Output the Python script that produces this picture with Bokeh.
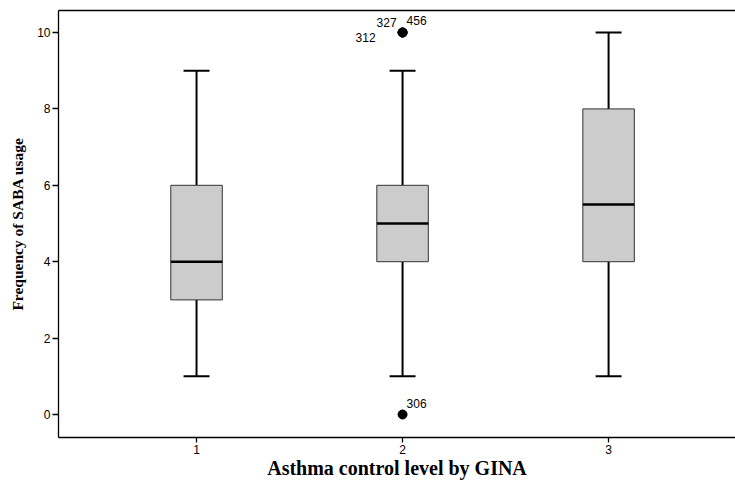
from bokeh.plotting import figure
from bokeh.models import ColumnDataSource, Range1d, FixedTicker, LinearAxis
from bokeh.core.properties import value
from bokeh.embed import file_html
from bokeh.resources import INLINE

# ---- data ----
categories = [1, 2, 3]
tick_labels = ["1", "2", "3"]
q1 = [3, 4, 4]
median = [4, 5, 5.5]
q3 = [6, 6, 8]
whisker_low = [1, 1, 1]
whisker_high = [9, 9, 10]

outlier_cat = [2, 2, 2, 2]
outlier_val = [10, 10, 10, 0]
outlier_ids = ["312", "327", "456", "306"]

# ---- styles ----
BOX_HALF = 0.125
CAP_HALF = 0.063
label_dx = [-27, -26, 4, 4]
label_dy = [5, -10, -12, -11]
label_align = ["right", "left", "left", "left"]

p = figure(width=735, height=482, output_backend="svg", toolbar_location=None,
           x_range=Range1d(0.33, 3.616), y_range=Range1d(-0.602, 10.576),
           min_border_left=58, min_border_right=0, min_border_top=10,
           min_border_bottom=45)
p.outline_line_color = None
p.xgrid.visible = False
p.ygrid.visible = False
p.background_fill_color = "white"
p.border_fill_color = "white"

box_src = ColumnDataSource(dict(
    x=categories, q1=q1, q3=q3, med=median, lo=whisker_low, hi=whisker_high,
    x0=[c - BOX_HALF for c in categories], x1=[c + BOX_HALF for c in categories],
    c0=[c - CAP_HALF for c in categories], c1=[c + CAP_HALF for c in categories],
))

# whiskers
p.segment(x0="x", y0="lo", x1="x", y1="q1", source=box_src, line_color="black", line_width=2)
p.segment(x0="x", y0="q3", x1="x", y1="hi", source=box_src, line_color="black", line_width=2)
p.segment(x0="c0", y0="lo", x1="c1", y1="lo", source=box_src, line_color="black", line_width=2)
p.segment(x0="c0", y0="hi", x1="c1", y1="hi", source=box_src, line_color="black", line_width=2)
# boxes
p.vbar(x="x", width=2 * BOX_HALF, bottom="q1", top="q3", source=box_src,
       fill_color="#cccccc", line_color="#333333", line_width=1)
# medians
p.segment(x0="x0", y0="med", x1="x1", y1="med", source=box_src, line_color="black",
          line_width=2.5, line_cap="butt")

# outliers
out_src = ColumnDataSource(dict(x=outlier_cat, y=outlier_val, t=outlier_ids,
                                dx=label_dx, dy=label_dy, al=label_align))
p.scatter(x="x", y="y", source=out_src, size=9, fill_color="black", line_color="black")
p.text(x="x", y="y", text="t", source=out_src, x_offset="dx", y_offset="dy",
       text_align="al", text_baseline="middle", text_font=value("Liberation Sans"),
       text_font_size="12px", text_color="black")

# axes
p.xaxis.ticker = FixedTicker(ticks=categories)
p.xaxis.major_label_overrides = {c: l for c, l in zip(categories, tick_labels)}
p.yaxis.ticker = FixedTicker(ticks=[0, 2, 4, 6, 8, 10])
for ax in (p.xaxis[0], p.yaxis[0]):
    ax.axis_line_color = "black"
    ax.axis_line_width = 1.3
    ax.major_tick_line_color = "black"
    ax.major_tick_line_width = 1.3
    ax.major_tick_in = 0
    ax.major_tick_out = 6
    ax.minor_tick_line_color = None
    ax.major_label_text_font = "Liberation Sans"
    ax.major_label_text_font_size = "12px"
    ax.major_label_text_color = "black"
    ax.axis_label_text_font = "Liberation Serif"
    ax.axis_label_text_font_style = "bold"
    ax.axis_label_text_color = "black"
p.xaxis.major_tick_out = 5
p.xaxis.major_label_standoff = 2
p.xaxis.axis_label = "Asthma control level by GINA"
p.xaxis.axis_label_text_font_size = "20px"
p.xaxis.axis_label_standoff = 0
p.yaxis.major_label_standoff = 2
p.yaxis.axis_label = "Frequency of SABA usage"
p.yaxis.axis_label_text_font_size = "15.5px"
p.yaxis.axis_label_standoff = 8

top = LinearAxis(ticker=FixedTicker(ticks=[]), major_tick_out=0, major_tick_in=0,
                 major_label_text_font_size="0px", axis_line_color="black",
                 axis_line_width=1.3, minor_tick_line_color=None)
p.add_layout(top, "above")

open("out.html", "w").write(file_html(p, INLINE))
